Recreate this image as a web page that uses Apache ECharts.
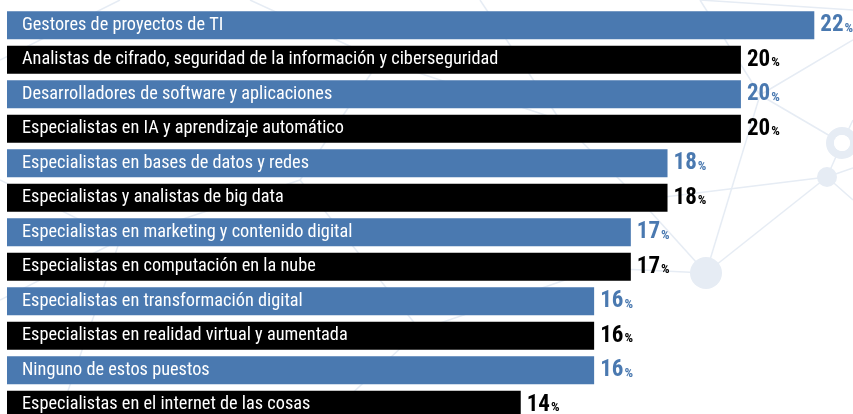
<!DOCTYPE html>
<html>
<head>
<meta charset="utf-8">
<script src="https://cdn.jsdelivr.net/npm/echarts@6/dist/echarts.min.js"></script>
<style>
html,body{margin:0;padding:0;background:#fff;}
#chart{width:853px;height:414px;}
</style>
</head>
<body>
<div id="chart"></div>
<script>
const categories = [
  "Gestores de proyectos de TI",
  "Analistas de cifrado, seguridad de la información y ciberseguridad",
  "Desarrolladores de software y aplicaciones",
  "Especialistas en IA y aprendizaje automático",
  "Especialistas en bases de datos y redes",
  "Especialistas y analistas de big data",
  "Especialistas en marketing y contenido digital",
  "Especialistas en computación en la nube",
  "Especialistas en transformación digital",
  "Especialistas en realidad virtual y aumentada",
  "Ninguno de estos puestos",
  "Especialistas en el internet de las cosas"
];
const values = [22, 20, 20, 20, 18, 18, 17, 17, 16, 16, 16, 14];
const barColors = ["#4a79b0", "#000000"];

const FONT = "'Roboto Condensed', 'Liberation Sans', sans-serif";

const chart = echarts.init(document.getElementById('chart'), null, {renderer: 'canvas'});

const bg = '#e6ecf4';
const deco = [];
const lines = [
  [[706,273],[827,177]], [[827,177],[853,168]], [[827,177],[853,200]],
  [[842,143],[827,177]], [[842,143],[760,95]], [[760,95],[700,0]],
  [[760,95],[853,40]], [[706,273],[640,200]], [[706,273],[600,268]],
  [[640,200],[827,177]], [[700,0],[853,10]], [[640,200],[560,120]],
  [[706,273],[760,95]], [[560,120],[480,0]], [[842,143],[853,120]],
  [[560,120],[380,60]], [[380,60],[250,0]], [[380,60],[300,180]],
  [[300,180],[120,240]], [[120,240],[0,180]], [[120,240],[60,414]],
  [[300,180],[420,330]], [[420,330],[600,268]], [[420,330],[330,414]],
  [[0,60],[120,0]], [[0,300],[120,240]]
];
lines.forEach(l => deco.push({type:'line', silent:true, z:-10,
  shape:{x1:l[0][0],y1:l[0][1],x2:l[1][0],y2:l[1][1]}, style:{stroke:bg, lineWidth:1.5}}));
deco.push({type:'circle', silent:true, z:-10, shape:{cx:706,cy:273,r:16}, style:{fill:bg}});
deco.push({type:'circle', silent:true, z:-10, shape:{cx:827,cy:177,r:10}, style:{fill:bg}});
deco.push({type:'ring', silent:true, z:-9, shape:{cx:842,cy:143,r:16,r0:8}, style:{fill:bg}});
deco.push({type:'circle', silent:true, z:-9, shape:{cx:842,cy:143,r:8}, style:{fill:'#ffffff'}});
deco.push({type:'circle', silent:true, z:-10, shape:{cx:640,cy:200,r:5}, style:{fill:bg}});

chart.setOption({
  animation: false,
  backgroundColor: '#ffffff',
  graphic: deco,
  grid: {left: 7, right: 2, top: 8, height: 414, containLabel: false, outerBoundsMode: 'none'},
  xAxis: {type: 'value', min: 0, max: 23, show: false},
  yAxis: {type: 'category', data: categories, inverse: true, show: false},
  series: [{
    type: 'bar',
    barWidth: 28,
    data: values.map((v, i) => ({
      value: v,
      itemStyle: {color: barColors[i % 2]},
      label: {
        show: true,
        position: 'right',
        distance: 6,
        formatter: '{n|{c}}{p|%}',
        rich: {
          n: {fontFamily: FONT, fontWeight: 'bold', fontSize: 23, lineHeight: 24, color: barColors[i % 2]},
          p: {fontFamily: FONT, fontWeight: 'bold', fontSize: 13.5, lineHeight: 24, color: barColors[i % 2], verticalAlign: 'bottom', padding: [0,0,2,1]}
        }
      }
    }))
  }, {
    type: 'bar',
    barWidth: 28,
    barGap: '-100%',
    silent: true,
    itemStyle: {color: 'transparent'},
    data: values,
    label: {
      show: true,
      position: 'insideLeft',
      distance: 15,
      color: '#ffffff',
      fontFamily: FONT,
      fontSize: 18.3,
      formatter: p => categories[p.dataIndex]
    }
  }]
});
</script>
</body>
</html>
